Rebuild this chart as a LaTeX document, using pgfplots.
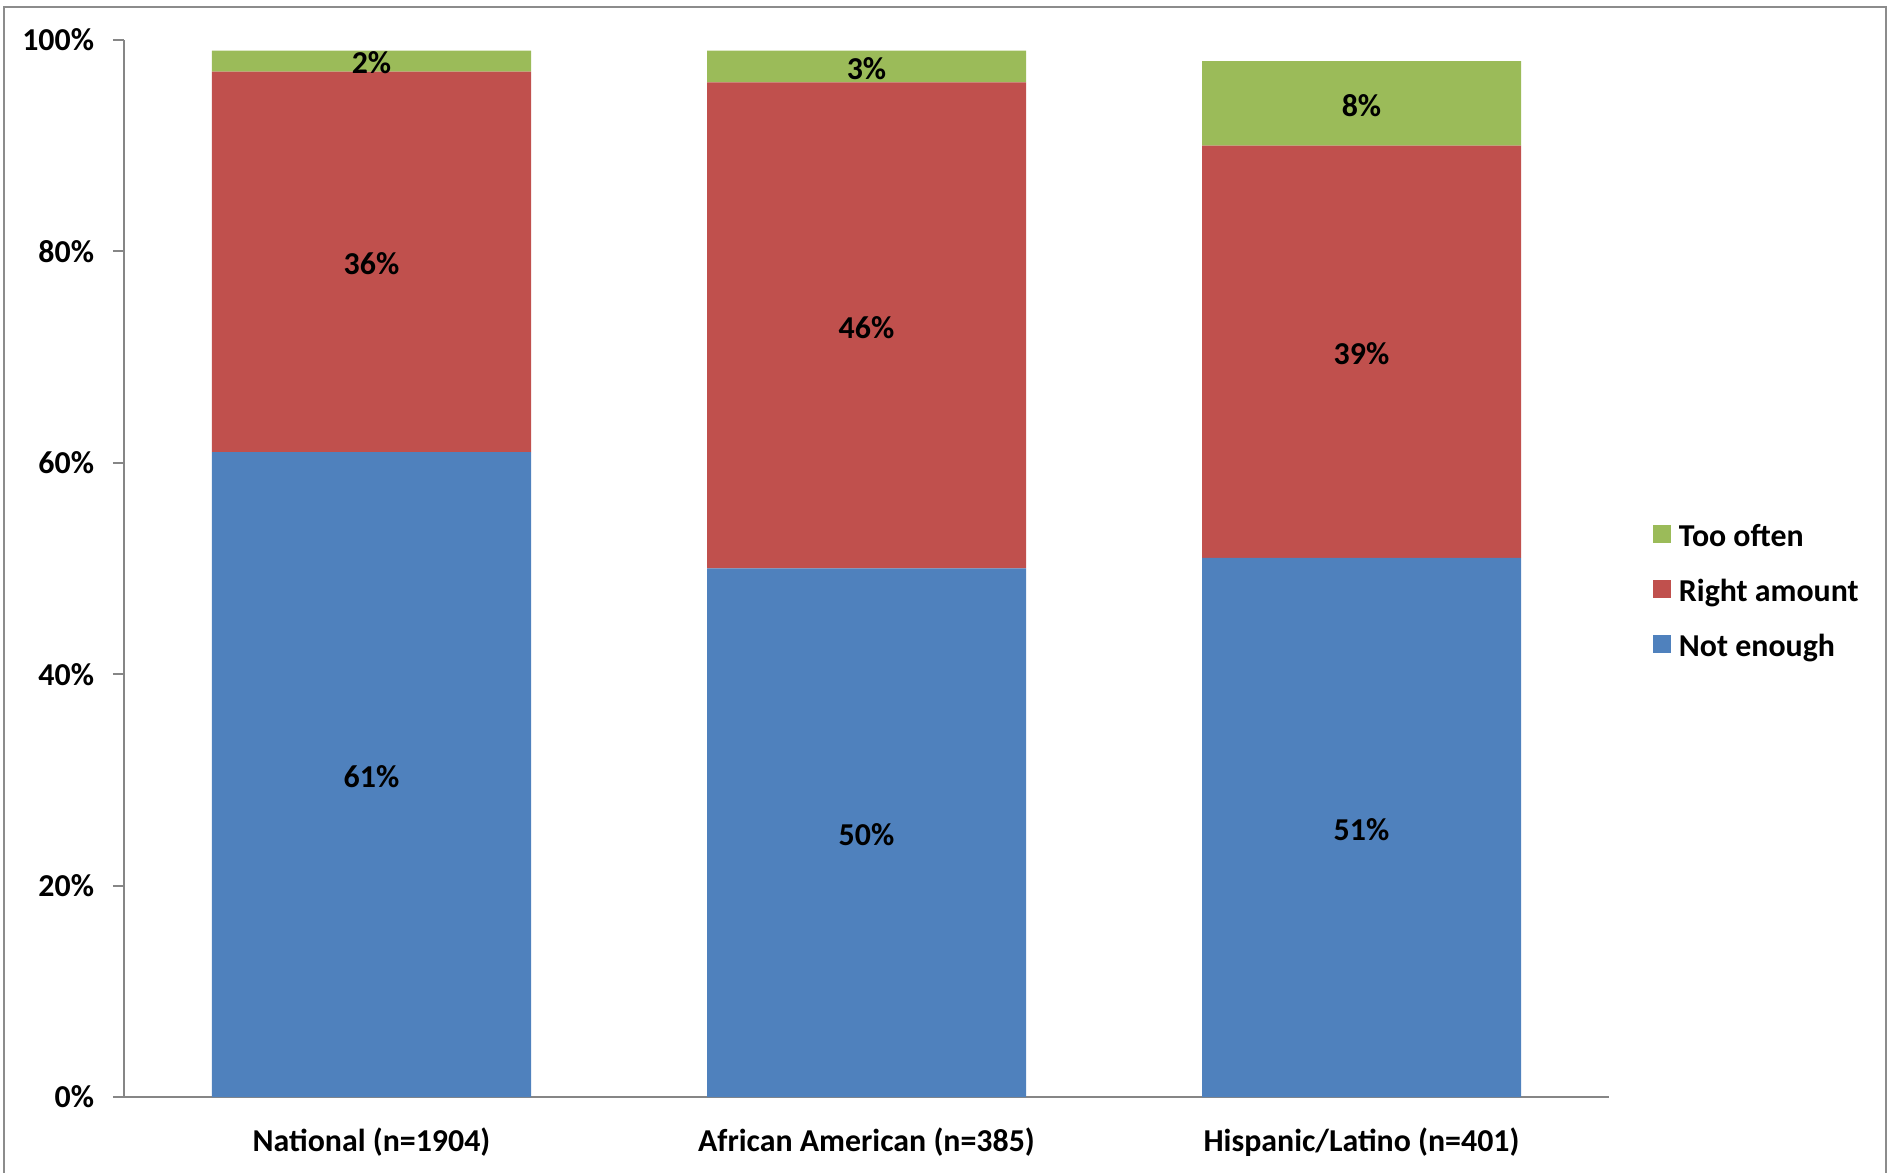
\documentclass[border=0pt]{standalone}
\usepackage{fontspec}
\setmainfont{Carlito}
\usepackage{pgfplots}
\pgfplotsset{compat=1.18}
\definecolor{cblue}{HTML}{4F81BD}
\definecolor{cred}{HTML}{C0504D}
\definecolor{cgreen}{HTML}{9BBB59}
\definecolor{axgray}{HTML}{868686}
\definecolor{frgray}{HTML}{8C8C8C}
\newcommand{\lbl}{\fontsize{12.75bp}{15bp}\selectfont\bfseries}
\begin{document}
\begin{tikzpicture}
\useasboundingbox (-49.6bp,-30.4bp) rectangle (708.4bp,438.8bp);
\draw[frgray, line width=0.8bp] (-48bp,-31bp) -- (-48bp,436bp) -- (704.8bp,436bp) -- (704.8bp,-31bp);
\begin{axis}[
  at={(0,0)}, anchor=south west,
  scale only axis,
  width=594bp, height=422.8bp,
  ybar stacked,
  bar width=127.6bp,
  xmin=-0.5, xmax=2.5,
  ymin=0, ymax=100,
  xtick={0,1,2},
  xticklabels={National (n=1904), African American (n=385), Hispanic/Latino (n=401)},
  major x tick style={draw=none},
  ytick={0,20,40,60,80,100},
  yticklabel={\pgfmathprintnumber{\tick}\%},
  /pgf/number format/assume math mode=true,
  tick align=outside,
  major tick length=4.4bp,
  y tick style={axgray, line width=0.75bp},
  axis x line*=bottom,
  axis y line*=left,
  axis line style={axgray, line width=0.75bp, -},
  ticklabel style={font=\lbl},
  yticklabel style={anchor=east, inner sep=0pt, xshift=-7.4bp},
  xticklabel style={anchor=center, inner sep=0pt, yshift=-13.8bp},
  legend style={at={(1.0296,0.4742)}, anchor=west, draw=none, fill=none, font=\lbl,
    inner sep=0pt, row sep=9.3bp,
    nodes={inner sep=0pt, text height=8bp, text depth=4bp, anchor=west}},
  legend cell align=left,
  reverse legend,
  legend image code/.code={\fill[#1] (0bp,-3.6bp+0.3em) rectangle (7.2bp,3.6bp+0.3em); \path (10.2bp,0.3em);},
  clip=false,
]
\addplot[fill=cblue, draw=none] coordinates {(0,61) (1,50) (2,51)};
\addlegendentry{Not enough}
\addplot[fill=cred, draw=none] coordinates {(0,36) (1,46) (2,39)};
\addlegendentry{Right amount}
\addplot[fill=cgreen, draw=none] coordinates {(0,2) (1,3) (2,8)};
\addlegendentry{Too often}
\end{axis}
\begin{axis}[
  at={(0,0)}, anchor=south west,
  scale only axis,
  width=594bp, height=422.8bp,
  xmin=-0.5, xmax=2.5, ymin=0, ymax=100,
  hide axis, clip=false,
]
\addplot[only marks, mark=none, point meta=explicit symbolic,
  nodes near coords, every node near coord/.style={anchor=center, font=\lbl, inner sep=0pt, yshift=-0.8bp}]
  table[meta=lab] {
x y lab
0 30.5 61\%
0 79 36\%
0 98 2\%
1 25 50\%
1 73 46\%
1 97.5 3\%
2 25.5 51\%
2 70.5 39\%
2 94 8\%
};
\end{axis}
\end{tikzpicture}
\end{document}
